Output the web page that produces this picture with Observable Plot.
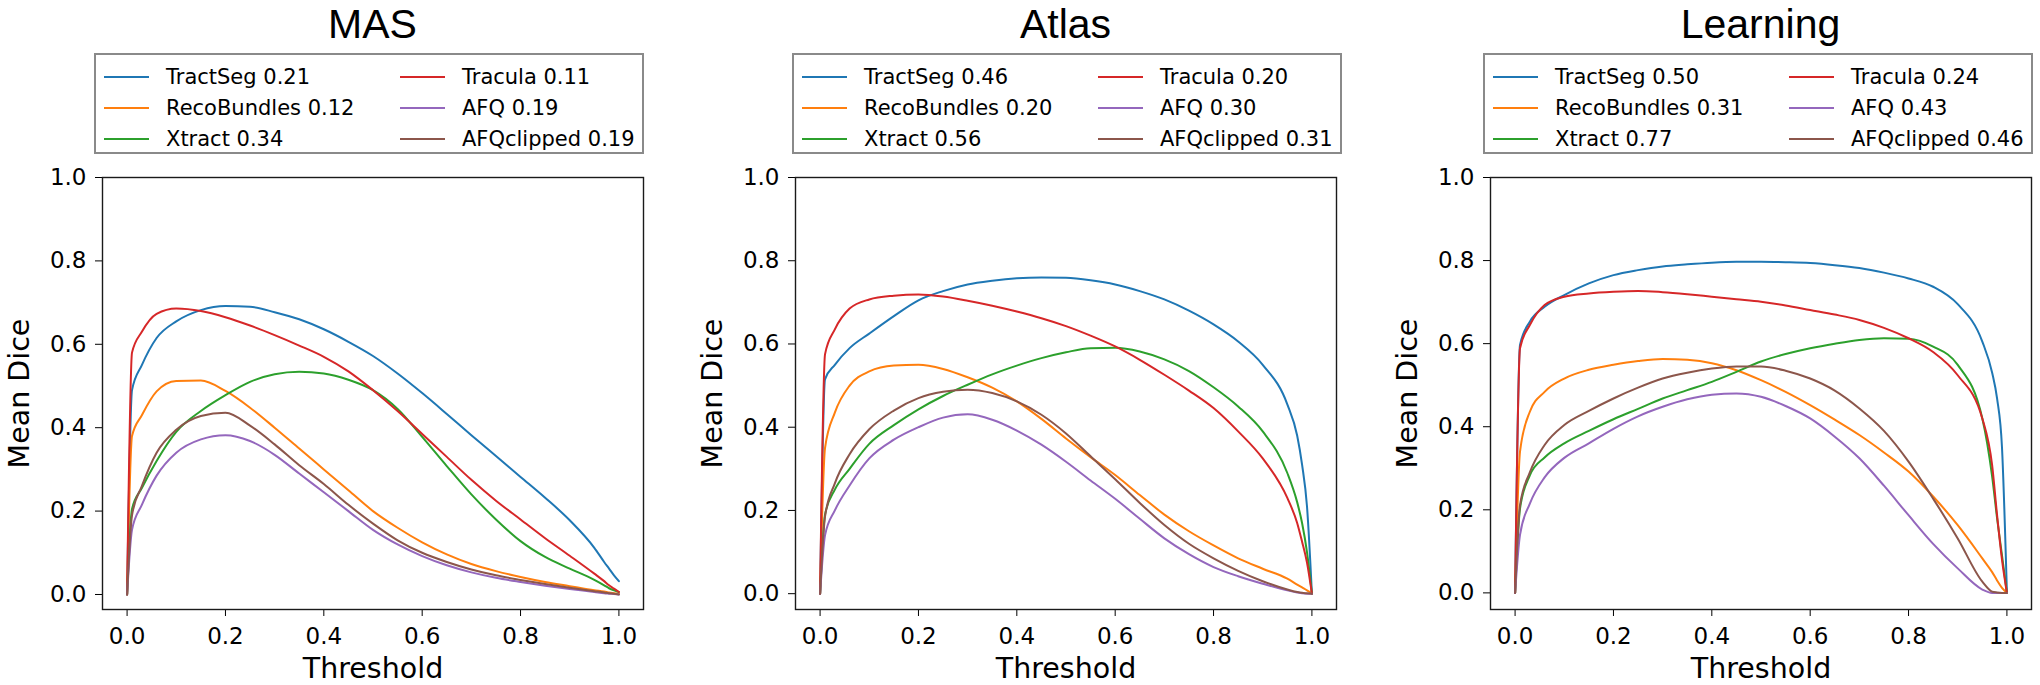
<!DOCTYPE html>
<html><head><meta charset="utf-8">
<script src="https://cdn.jsdelivr.net/npm/d3@7"></script>
<script src="https://cdn.jsdelivr.net/npm/@observablehq/plot@0.6"></script>
<style>
html,body{margin:0;padding:0;background:#fff;}
#root{position:relative;width:2040px;height:685px;overflow:hidden;font-family:"DejaVu Sans",sans-serif;color:#000;}
.panel{position:absolute;top:0;}
.title{position:absolute;top:0px;width:541px;text-align:center;font-family:"Liberation Sans",Arial,sans-serif;font-size:41px;line-height:48px;color:#000;}
.legend{position:absolute;top:53px;width:550px;height:101px;box-sizing:border-box;border:2px solid #8a8a8a;background:#fff;}
.lg-line{position:absolute;height:2px;width:45px;}
.lg-text{position:absolute;font-size:21px;line-height:24px;white-space:nowrap;font-family:"DejaVu Sans",sans-serif;}
.panel svg text{font-family:"DejaVu Sans",sans-serif;}
.panel g[aria-label="x-axis tick label"] text,.panel g[aria-label="y-axis tick label"] text{font-size:23px;}
.panel g[aria-label="x-axis label"] text,.panel g[aria-label="y-axis label"] text{font-size:28.5px;}
</style>
</head><body><div id="root"></div>
<script>
// ---------------- data ----------------
const panels = ["MAS", "Atlas", "Learning"];
const methods = ["TractSeg", "RecoBundles", "Xtract", "Tracula", "AFQ", "AFQclipped"];
const colors = ["#1f77b4", "#ff7f0e", "#2ca02c", "#d62728", "#9467bd", "#8c564b"];
const xTicks = [0, 0.2, 0.4, 0.6, 0.8, 1.0];
const yTicks = [0, 0.2, 0.4, 0.6, 0.8, 1.0];
const thresholds = [0, 0.01, 0.03, 0.06, 0.1, 0.15, 0.2, 0.25, 0.3, 0.35, 0.4, 0.45, 0.5, 0.55, 0.6, 0.65, 0.7, 0.75, 0.8, 0.85, 0.9, 0.95, 0.97, 0.98, 0.99, 1.0];

const masScores = [0.21, 0.12, 0.34, 0.11, 0.19, 0.19];
const atlasScores = [0.46, 0.20, 0.56, 0.20, 0.30, 0.31];
const learningScores = [0.50, 0.31, 0.77, 0.24, 0.43, 0.46];

const masTractSeg    = [0, 0.49, 0.55, 0.615, 0.655, 0.682, 0.692, 0.69, 0.677, 0.66, 0.636, 0.606, 0.572, 0.53, 0.483, 0.433, 0.382, 0.332, 0.282, 0.232, 0.178, 0.112, 0.078, 0.062, 0.046, 0.032];
const masRecoBundles = [0, 0.38, 0.43, 0.487, 0.512, 0.513, 0.488, 0.448, 0.4, 0.35, 0.3, 0.25, 0.2, 0.16, 0.125, 0.096, 0.073, 0.056, 0.042, 0.03, 0.02, 0.01, 0.007, 0.005, 0.003, 0.002];
const masXtract      = [0, 0.205, 0.255, 0.32, 0.39, 0.44, 0.478, 0.51, 0.528, 0.534, 0.53, 0.515, 0.49, 0.445, 0.378, 0.308, 0.24, 0.18, 0.128, 0.09, 0.062, 0.035, 0.022, 0.015, 0.01, 0.006];
const masTracula     = [0, 0.58, 0.63, 0.673, 0.686, 0.68, 0.665, 0.645, 0.622, 0.597, 0.57, 0.535, 0.49, 0.44, 0.385, 0.33, 0.275, 0.225, 0.18, 0.135, 0.093, 0.05, 0.032, 0.022, 0.014, 0.006];
const masAFQ         = [0, 0.155, 0.215, 0.285, 0.34, 0.372, 0.382, 0.368, 0.335, 0.29, 0.245, 0.2, 0.155, 0.12, 0.092, 0.07, 0.053, 0.04, 0.03, 0.021, 0.013, 0.006, 0.003, 0.002, 0.001, 0];
const masAFQclipped  = [0, 0.19, 0.26, 0.34, 0.395, 0.428, 0.436, 0.405, 0.36, 0.31, 0.265, 0.215, 0.17, 0.13, 0.1, 0.078, 0.06, 0.046, 0.035, 0.025, 0.016, 0.008, 0.005, 0.003, 0.002, 0];

const atlasTractSeg    = [0, 0.515, 0.55, 0.59, 0.625, 0.667, 0.705, 0.727, 0.743, 0.752, 0.758, 0.76, 0.759, 0.753, 0.743, 0.727, 0.707, 0.68, 0.647, 0.606, 0.55, 0.455, 0.38, 0.31, 0.21, 0];
const atlasRecoBundles = [0, 0.35, 0.435, 0.5, 0.534, 0.548, 0.55, 0.54, 0.52, 0.495, 0.462, 0.42, 0.373, 0.328, 0.285, 0.237, 0.19, 0.15, 0.116, 0.085, 0.06, 0.036, 0.022, 0.015, 0.008, 0];
const atlasXtract      = [0, 0.19, 0.25, 0.3, 0.36, 0.405, 0.443, 0.475, 0.502, 0.527, 0.548, 0.566, 0.58, 0.59, 0.591, 0.582, 0.563, 0.535, 0.496, 0.45, 0.39, 0.29, 0.22, 0.17, 0.1, 0];
const atlasTracula     = [0, 0.575, 0.635, 0.685, 0.707, 0.716, 0.719, 0.714, 0.704, 0.692, 0.678, 0.662, 0.643, 0.62, 0.594, 0.562, 0.526, 0.488, 0.446, 0.39, 0.325, 0.23, 0.17, 0.125, 0.075, 0];
const atlasAFQ         = [0, 0.14, 0.2, 0.26, 0.325, 0.37, 0.4, 0.423, 0.431, 0.418, 0.392, 0.358, 0.317, 0.272, 0.228, 0.18, 0.133, 0.095, 0.064, 0.042, 0.024, 0.008, 0.003, 0.001, 0, 0];
const atlasAFQclipped  = [0, 0.185, 0.265, 0.335, 0.395, 0.44, 0.47, 0.485, 0.49, 0.482, 0.462, 0.43, 0.385, 0.33, 0.275, 0.218, 0.165, 0.12, 0.085, 0.055, 0.03, 0.01, 0.004, 0.002, 0.001, 0];

const learningTractSeg    = [0, 0.597, 0.653, 0.689, 0.717, 0.745, 0.765, 0.777, 0.786, 0.791, 0.795, 0.797, 0.797, 0.796, 0.794, 0.789, 0.782, 0.771, 0.757, 0.737, 0.695, 0.605, 0.53, 0.468, 0.35, 0];
const learningRecoBundles = [0, 0.34, 0.436, 0.484, 0.516, 0.537, 0.549, 0.558, 0.563, 0.561, 0.553, 0.536, 0.512, 0.484, 0.452, 0.417, 0.38, 0.338, 0.292, 0.232, 0.163, 0.083, 0.05, 0.03, 0.012, 0];
const learningXtract      = [0, 0.203, 0.283, 0.326, 0.36, 0.39, 0.418, 0.443, 0.468, 0.488, 0.508, 0.532, 0.557, 0.575, 0.589, 0.6, 0.609, 0.613, 0.612, 0.593, 0.549, 0.42, 0.28, 0.18, 0.09, 0];
const learningTracula     = [0, 0.589, 0.645, 0.693, 0.713, 0.721, 0.725, 0.727, 0.724, 0.719, 0.713, 0.707, 0.701, 0.692, 0.681, 0.67, 0.657, 0.638, 0.613, 0.58, 0.524, 0.42, 0.307, 0.187, 0.08, 0];
const learningAFQ         = [0, 0.14, 0.215, 0.278, 0.325, 0.36, 0.395, 0.425, 0.448, 0.466, 0.477, 0.48, 0.472, 0.45, 0.42, 0.376, 0.324, 0.258, 0.187, 0.118, 0.059, 0.008, 0, 0, 0, 0];
const learningAFQclipped  = [0, 0.211, 0.29, 0.356, 0.404, 0.438, 0.468, 0.494, 0.516, 0.53, 0.54, 0.545, 0.545, 0.535, 0.516, 0.487, 0.444, 0.39, 0.316, 0.227, 0.131, 0.027, 0.003, 0.001, 0, 0];

const yLower = [-0.036, -0.038, -0.040];

// ---------------- assemble ----------------
const series = [
  [masTractSeg, masRecoBundles, masXtract, masTracula, masAFQ, masAFQclipped],
  [atlasTractSeg, atlasRecoBundles, atlasXtract, atlasTracula, atlasAFQ, atlasAFQclipped],
  [learningTractSeg, learningRecoBundles, learningXtract, learningTracula, learningAFQ, learningAFQclipped]
];
const scores = [masScores, atlasScores, learningScores];

const frameLeft = [102, 795, 1490];
const frameW = 541;
const mLeft = 102, mTop = 177, mBottom = 76;
const mRight = [20, 20, 9];
const legendLeft = [94, 792, 1483];

const root = document.getElementById("root");

panels.forEach((name, p) => {
  const rows = [];
  methods.forEach((m, k) => {
    thresholds.forEach((t, i) => rows.push({method: m, t, v: series[p][k][i]}));
  });
  const width = mLeft + frameW + mRight[p];
  const chart = Plot.plot({
    width, height: 685,
    marginLeft: mLeft, marginRight: mRight[p], marginTop: mTop, marginBottom: mBottom,
    style: {fontFamily: "DejaVu Sans", fontSize: "23px", color: "#000", background: "transparent", overflow: "visible"},
    x: {domain: [-0.05, 1.05], ticks: xTicks, tickFormat: d3.format(".1f"), tickSize: 7, tickPadding: 11,
        label: "Threshold", labelAnchor: "center", labelOffset: 68, labelArrow: "none"},
    y: {domain: [yLower[p], 1.0], ticks: yTicks, tickFormat: d3.format(".1f"), tickSize: 7, tickPadding: 9,
        label: "Mean Dice", labelAnchor: "center", labelOffset: 94, labelArrow: "none"},
    color: {domain: methods, range: colors},
    marks: [
      Plot.line(rows, {x: "t", y: "v", z: "method", stroke: "method", strokeWidth: 2, curve: "monotone-x"}),
      Plot.frame({stroke: "#1a1a1a", strokeWidth: 1.4})
    ]
  });
  const holder = document.createElement("div");
  holder.className = "panel";
  holder.style.left = (frameLeft[p] - mLeft) + "px";
  holder.appendChild(chart);
  root.appendChild(holder);

  const title = document.createElement("div");
  title.className = "title";
  title.style.left = frameLeft[p] + "px";
  title.textContent = name;
  root.appendChild(title);

  const lg = document.createElement("div");
  lg.className = "legend";
  lg.style.left = legendLeft[p] + "px";
  const rowY = [24, 55, 86];
  methods.forEach((m, k) => {
    const col = Math.floor(k / 3), r = k % 3;
    const line = document.createElement("div");
    line.className = "lg-line";
    line.style.background = colors[k];
    line.style.left = (10 + col * 296 - 2) + "px";
    line.style.top = (rowY[r] - 1 - 2) + "px";
    lg.appendChild(line);
    const tx = document.createElement("div");
    tx.className = "lg-text";
    tx.style.left = (72 + col * 296 - 2) + "px";
    tx.style.top = (rowY[r] - 12 - 2) + "px";
    tx.textContent = m + " " + scores[p][k].toFixed(2);
    lg.appendChild(tx);
  });
  root.appendChild(lg);
});
</script>
</body></html>
